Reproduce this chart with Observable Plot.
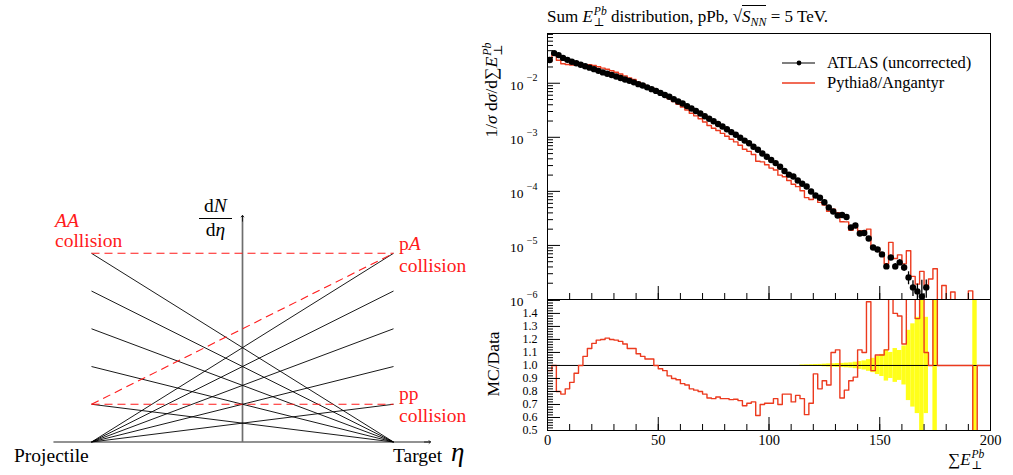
<!DOCTYPE html>
<html><head><meta charset="utf-8">
<script src="https://cdn.jsdelivr.net/npm/d3@7"></script>
<script src="https://cdn.jsdelivr.net/npm/@observablehq/plot@0.6"></script>
<style>
body{margin:0;background:#fff;}
#root{position:relative;width:1013px;height:475px;overflow:hidden;font-family:"Liberation Serif","DejaVu Serif",serif;color:#000;}
#root svg{position:absolute;}
.lab{position:absolute;white-space:nowrap;line-height:1;}
.red{color:#ff1a1a;}
.ss{display:inline-block;vertical-align:-0.38em;line-height:0.95;font-size:0.68em;margin-left:1px;text-align:left;}
.ss span{display:block;}
.rot{transform:translate(-50%,-50%) rotate(-90deg);}
</style></head><body><div id="root"></div>
<script>
// ---------------- data ----------------
// Left sketch: multiplicity levels of the wounded-nucleon picture
const levels = [1, 2, 3, 4, 5];
const ppLevel = 1, aaLevel = 5, dndetaTop = 6;
const projEta = -1, targEta = 1;
const etaAxisEnds = [-1.252, 1.245];

// Right chart: sum E_T^Pb, 2-GeV bins from 0 to 200
const binWidth = 2;
const binLo = d3.range(0, 200, binWidth);
const atlasLog10 = [
 -1.571,-1.442,-1.479,-1.531,-1.567,-1.603,-1.630,-1.658,-1.686,-1.712,
 -1.739,-1.771,-1.799,-1.824,-1.848,-1.874,-1.902,-1.930,-1.956,-1.983,
 -2.017,-2.043,-2.076,-2.109,-2.142,-2.179,-2.218,-2.251,-2.294,-2.338,
 -2.375,-2.423,-2.468,-2.512,-2.560,-2.610,-2.656,-2.704,-2.754,-2.799,
 -2.852,-2.904,-2.954,-3.009,-3.061,-3.111,-3.174,-3.231,-3.299,-3.360,
 -3.421,-3.477,-3.545,-3.623,-3.691,-3.725,-3.799,-3.860,-3.909,-4.002,
 -4.076,-4.118,-4.200,-4.298,-4.372,-4.445,-4.436,-4.473,-4.667,-4.630,
 -4.778,-4.769,-4.871,-5.037,-5.074,-5.166,-5.388,-5.222,-5.388,-5.314,
 -5.407,-5.591,-5.776,-5.850,-5.943,-5.776,null,null,null,null,
 null,null,null,null,null,null,null,null,null,null];
const mcOverData = [
 0.96,1.00,0.80,0.78,0.82,0.87,0.94,1.00,1.07,1.13,
 1.17,1.195,1.20,1.21,1.20,1.195,1.185,1.165,1.13,1.13,
 1.09,1.07,1.05,1.05,1.00,0.975,0.96,0.92,0.90,0.89,
 0.86,0.85,0.82,0.81,0.80,0.78,0.75,0.745,0.757,0.745,
 0.745,0.737,0.74,0.73,0.69,0.71,0.72,0.615,0.70,0.71,
 0.71,0.745,0.70,0.78,0.78,0.72,0.77,0.745,0.622,0.71,
 0.935,0.82,0.883,0.85,1.10,1.12,0.75,0.81,0.883,0.91,
 1.12,1.10,1.49,0.96,1.08,1.08,1.12,1.9,1.40,1.38,
 1.165,3.1,1.6,1.36,2.9,1.10,1.0,5.0,1,1,
 1,1,1,1,1,1,0,1,1,1];
const dataRelErr = [
 0,0,0,0,0,0,0,0,0,0, 0,0,0,0,0,0,0,0,0,0,
 0,0,0,0,0,0,0,0,0,0, 0,0,0,0,0,0,0,0,0,0,
 0,0,0,0,0,0,0,0,0,0, 0,0,0,0,0,0,0,0.004,0.005,0.006,
 0.007,0.008,0.010,0.012,0.013,0.015,0.016,0.018,0.020,0.025,
 0.030,0.035,0.045,0.055,0.070,0.085,0.12,0.10,0.13,0.115,
 0.15,0.27,0.32,0.37,1.0,0.37,0,1.0,0,0,
 0,0,0,0,0,0,1.0,0,0,0];
// MC bins where no data point is drawn
const mcTailBins = [172, 174, 178, 182, 190];
const mcTailLog10 = [-5.62, -5.43, -5.74, -5.86, -5.84];

const logTickDecades = [1e-6, 1e-5, 1e-4, 1e-3, 1e-2];
const logTickExp = ["−6", "−5", "−4", "−3", "−2"];
const ratioLabels = [0.5,0.6,0.7,0.8,0.9,1.0,1.1,1.2,1.3,1.4];
const xMajor = [0, 50, 100, 150, 200];

// ---------------- styles ----------------
const RED = "#ec3a1e", YELLOW = "#ffff1a", DRED = "#ff1a1a";
const SERIF = '"Liberation Serif","DejaVu Serif",serif';
const FLOOR = 1e-9;
const root = document.getElementById("root");
function put(node, l, t){ node.style.left = l + "px"; node.style.top = t + "px"; root.appendChild(node); }
function lab(html, l, t, size, extra){ const d = document.createElement("div"); d.className = "lab " + (extra||""); d.innerHTML = html; d.style.fontSize = size + "px"; put(d, l, t); return d; }

// ---------------- left sketch ----------------
const fan = levels.map(k => ({x1: projEta, y1: 0, x2: targEta, y2: k}))
  .concat(levels.map(k => ({x1: projEta, y1: k, x2: targEta, y2: 0})));
const dashed = [
  {x1: projEta, y1: aaLevel, x2: targEta, y2: aaLevel},
  {x1: projEta, y1: ppLevel, x2: targEta, y2: ppLevel},
  {x1: projEta, y1: ppLevel, x2: targEta, y2: aaLevel}];
const axes = [
  {x1: etaAxisEnds[0], y1: 0, x2: etaAxisEnds[1], y2: 0},
  {x1: 0, y1: 0, x2: 0, y2: dndetaTop}];
const tips = [
  {x1: etaAxisEnds[1] - 0.04, y1: 0, x2: etaAxisEnds[1], y2: 0},
  {x1: 0, y1: dndetaTop - 0.15, x2: 0, y2: dndetaTop}];
const leftPlot = Plot.plot({
  width: 470, height: 475, margin: 0,
  x: {domain: [projEta, targEta], range: [91, 393], axis: null},
  y: {domain: [0, aaLevel], range: [441.5, 252.8], axis: null},
  style: {background: "transparent", overflow: "visible"},
  marks: [
    Plot.link(axes, {x1: "x1", y1: "y1", x2: "x2", y2: "y2", stroke: "#6e6e6e", strokeWidth: 1.7}),
    Plot.arrow(tips, {x1: "x1", y1: "y1", x2: "x2", y2: "y2", stroke: "#111", strokeWidth: 0.9, headLength: 8, headAngle: 90}),
    Plot.link(fan, {x1: "x1", y1: "y1", x2: "x2", y2: "y2", stroke: "#000", strokeWidth: 0.9}),
    Plot.link(dashed, {x1: "x1", y1: "y1", x2: "x2", y2: "y2", stroke: DRED, strokeWidth: 1.1, strokeDasharray: "8,5"})
  ]
});
put(leftPlot, 0, 0);

// ---------------- right chart ----------------
const table = binLo.map((lo, i) => {
  const data = atlasLog10[i] == null ? null : 10 ** atlasLog10[i];
  const t = mcTailBins.indexOf(lo);
  const mc = data != null ? data * mcOverData[i] : (t >= 0 ? 10 ** mcTailLog10[t] : 0);
  return {lo, hi: lo + binWidth, mid: lo + binWidth / 2, data, mc, ratio: mcOverData[i], err: dataRelErr[i]};
});
const mcSteps = table.flatMap(d => [{x: d.lo, y: Math.max(d.mc, FLOOR)}, {x: d.hi, y: Math.max(d.mc, FLOOR)}]);
const ratioSteps = table.flatMap(d => [{x: d.lo, y: d.ratio}, {x: d.hi, y: d.ratio}]);
const pts = table.filter(d => d.data != null);
const errBars = pts.filter(d => d.err >= 0.05).map(d => ({mid: d.mid, lo: Math.max(d.data * (1 - d.err), FLOOR), hi: d.data * (1 + d.err)}));
const band = table.filter(d => d.err > 0);

const FW = 443, TOPH = 266, RATH = 131;
const yMinor = logTickDecades.flatMap(p => d3.range(2, 10).map(m => m * p)).filter(v => v < 0.083);
const xMinor = d3.range(0, 201, 10);
const rMinor = d3.range(50, 151, 2).map(v => v / 100);
const rMajor = d3.range(5, 16).map(v => v / 10);

const topPlot = Plot.plot({
  width: 543, height: 299, marginLeft: 77, marginRight: 23, marginTop: 33, marginBottom: 0,
  x: {domain: [0, 200], axis: null},
  y: {type: "log", domain: [1e-6, 0.0832], axis: null},
  style: {background: "transparent", overflow: "visible", fontFamily: SERIF},
  marks: [
    Plot.line(mcSteps, {x: "x", y: "y", stroke: RED, strokeWidth: 1.4, clip: true}),
    Plot.ruleX(errBars, {x: "mid", y1: "lo", y2: "hi", stroke: "#000", strokeWidth: 1.3, clip: true}),
    Plot.dot(pts, {x: "mid", y: "data", r: 3.2, fill: "#000", clip: true}),
    Plot.frame({stroke: "#000", strokeWidth: 1}),
    Plot.tickY(logTickDecades, {y: d => d, insetRight: FW - 13, stroke: "#000"}),
    Plot.tickY(yMinor, {y: d => d, insetRight: FW - 6, stroke: "#000"}),
    Plot.tickX(xMajor, {x: d => d, insetTop: TOPH - 13, stroke: "#000"}),
    Plot.tickX(xMinor, {x: d => d, insetTop: TOPH - 6, stroke: "#000"}),
    Plot.text(logTickDecades, {y: d => d, text: () => "10", frameAnchor: "left", textAnchor: "end", dx: -24, dy: 2, fontSize: 13.5}),
    Plot.text(logTickDecades, {y: d => d, text: (d, i) => logTickExp[i], frameAnchor: "left", textAnchor: "end", dx: -10, dy: -5, fontSize: 10})
  ]
});
put(topPlot, 470, 0);

const ratioPlot = Plot.plot({
  width: 543, height: 176, marginLeft: 77, marginRight: 23, marginTop: 0, marginBottom: 45,
  x: {domain: [0, 200], axis: null},
  y: {domain: [0.5, 1.507], axis: null},
  style: {background: "transparent", overflow: "visible", fontFamily: SERIF},
  marks: [
    Plot.rect(band, {x1: "lo", x2: "hi", y1: d => 1 - d.err, y2: d => 1 + d.err, fill: YELLOW, clip: true}),
    Plot.ruleY([1], {stroke: "#000", strokeWidth: 1}),
    Plot.line(ratioSteps, {x: "x", y: "y", stroke: RED, strokeWidth: 1.4, clip: true}),
    Plot.frame({stroke: "#000", strokeWidth: 1}),
    Plot.tickY(rMajor, {y: d => d, insetRight: FW - 13, stroke: "#000"}),
    Plot.tickY(rMinor, {y: d => d, insetRight: FW - 6, stroke: "#000"}),
    Plot.tickX(xMajor, {x: d => d, insetTop: RATH - 13, stroke: "#000"}),
    Plot.tickX(xMinor, {x: d => d, insetTop: RATH - 6, stroke: "#000"}),
    Plot.text(ratioLabels, {y: d => d, text: d => d.toFixed(1), frameAnchor: "left", textAnchor: "end", dx: -10, fontSize: 12}),
    Plot.text(xMajor, {x: d => d, text: d => String(d), frameAnchor: "bottom", dy: 14, fontSize: 14.5})
  ]
});
put(ratioPlot, 470, 299);

// ---------------- text overlays ----------------
const EPb = '<i>E</i><span class="ss"><span><i>Pb</i></span><span>⊥</span></span>';
lab('Sum ' + EPb + ' distribution, pPb, √<span style="border-top:1px solid #000;padding-top:1px"><i>S</i><sub style="font-size:0.7em"><i>NN</i></sub></span> = 5 TeV.', 547, 6, 17);
lab('1/<i>σ</i> d<i>σ</i>/d∑' + EPb, 493, 90, 17.5, 'rot');
lab('MC/Data', 494, 364, 17.5, 'rot');
const xl = lab('∑' + EPb, 948, 449, 17);
xl.style.lineHeight = "0.9";
// legend
const leg = document.createElement("div");
leg.className = "lab";
leg.style.fontSize = "16.5px";
leg.innerHTML = '<svg width="36" height="12" style="position:absolute;left:-45px;top:3px"><line x1="0" y1="6" x2="33" y2="6" stroke="#000" stroke-width="1.2"/><circle cx="17" cy="6" r="2.4" fill="#000"/></svg>' +
  '<div>ATLAS (uncorrected)</div>' +
  '<svg width="36" height="12" style="position:absolute;left:-45px;top:23px"><line x1="0" y1="6" x2="33" y2="6" stroke="' + RED + '" stroke-width="1.3"/></svg>' +
  '<div style="margin-top:3px">Pythia8/Angantyr</div>';
put(leg, 827, 54);
leg.style.lineHeight = "17px";

// left sketch labels
lab('<i>AA</i>', 55, 211, 19.5, 'red');
lab('collision', 55, 231, 19.5, 'red');
lab('p<i>A</i>', 399, 234, 19.5, 'red');
lab('collision', 399, 256, 19.5, 'red');
lab('pp', 399, 384, 19.5, 'red');
lab('collision', 399, 406, 19.5, 'red');
lab('Projectile', 14, 446, 19.5);
lab('Target', 393, 446, 19.5);
lab('<i>η</i>', 451, 439, 27);
const fr = lab('<div style="text-align:center">d<i>N</i></div><div style="border-top:1px solid #000;margin-top:2px;padding-top:1px;text-align:center">d<i>η</i></div>', 199, 196, 19.5);
fr.style.width = "33px";
</script></body></html>
